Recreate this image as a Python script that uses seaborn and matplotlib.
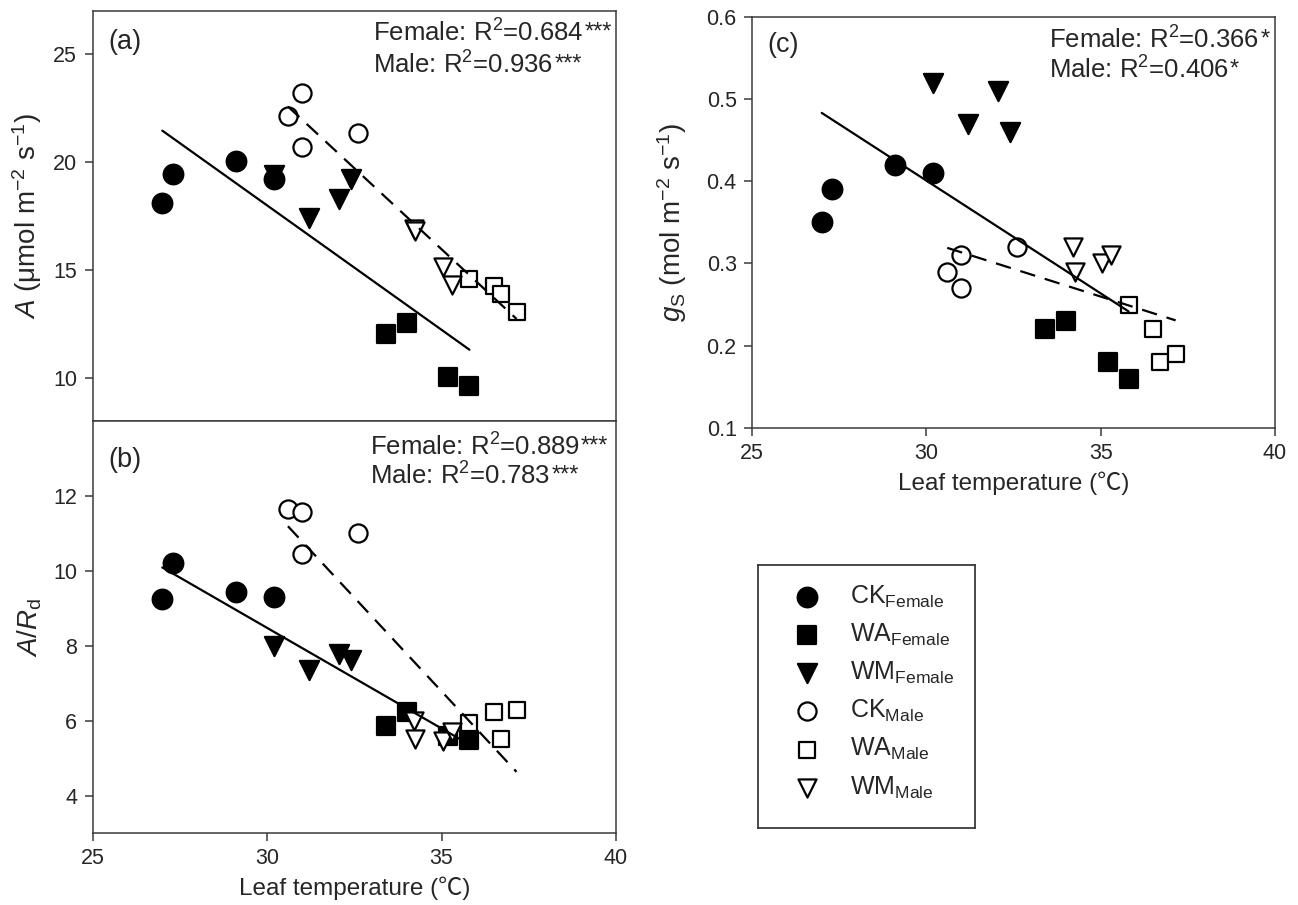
import numpy as np
import pandas as pd
import seaborn as sns
import matplotlib.pyplot as plt

sns.set_style('ticks')
plt.rcParams['font.family'] = ['Liberation Sans', 'Noto Sans CJK SC', 'DejaVu Sans']
plt.rcParams['mathtext.fontset'] = 'custom'
plt.rcParams['mathtext.rm'] = 'Liberation Sans'
plt.rcParams['mathtext.it'] = 'Liberation Sans:italic'
plt.rcParams['mathtext.bf'] = 'Liberation Sans:bold'

# leaf temperature of each replicate
temp_ck_f = [27.0, 27.3, 29.1, 30.2]
temp_wa_f = [33.4, 34.0, 35.2, 35.8]
temp_wm_f = [30.2, 31.2, 32.05, 32.4]
temp_ck_m = [30.6, 31.0, 31.0, 32.6]
temp_wa_m = [35.8, 36.5, 36.7, 37.15]
temp_wm_m = [34.2, 34.25, 35.05, 35.3]

# (a) net photosynthesis A
a_ck_f = [18.1, 19.45, 20.05, 19.2]
a_wa_f = [12.05, 12.55, 10.05, 9.6]
a_wm_f = [19.4, 17.4, 18.3, 19.2]
a_ck_m = [22.15, 23.2, 20.7, 21.35]
a_wa_m = [14.6, 14.25, 13.9, 13.05]
a_wm_m = [16.9, 16.8, 15.15, 14.3]

# (b) A/Rd
ar_ck_f = [9.26, 10.2, 9.44, 9.3]
ar_wa_f = [5.87, 6.24, 5.6, 5.48]
ar_wm_f = [7.98, 7.36, 7.79, 7.63]
ar_ck_m = [11.64, 11.58, 10.44, 11.02]
ar_wa_m = [5.93, 6.22, 5.51, 6.29]
ar_wm_m = [6.0, 5.51, 5.45, 5.69]

# (c) stomatal conductance gs
gs_ck_f = [0.35, 0.39, 0.42, 0.41]
gs_wa_f = [0.22, 0.23, 0.18, 0.16]
gs_wm_f = [0.52, 0.47, 0.51, 0.46]
gs_ck_m = [0.29, 0.31, 0.27, 0.32]
gs_wa_m = [0.25, 0.22, 0.18, 0.19]
gs_wm_m = [0.32, 0.29, 0.30, 0.31]

groups = ['CK_F', 'WA_F', 'WM_F', 'CK_M', 'WA_M', 'WM_M']
sexes = ['Female', 'Female', 'Female', 'Male', 'Male', 'Male']
legend_labels = [r'CK$_{\mathrm{Female}}$', r'WA$_{\mathrm{Female}}$', r'WM$_{\mathrm{Female}}$',
                 r'CK$_{\mathrm{Male}}$', r'WA$_{\mathrm{Male}}$', r'WM$_{\mathrm{Male}}$']
r2_a = [(r'Female: R$^2$=0.684', '***'), (r'Male: R$^2$=0.936', '***')]
r2_b = [(r'Female: R$^2$=0.889', '***'), (r'Male: R$^2$=0.783', '***')]
r2_c = [(r'Female: R$^2$=0.366', '*'), (r'Male: R$^2$=0.406', '*')]

temps = [temp_ck_f, temp_wa_f, temp_wm_f, temp_ck_m, temp_wa_m, temp_wm_m]
a_all = [a_ck_f, a_wa_f, a_wm_f, a_ck_m, a_wa_m, a_wm_m]
ar_all = [ar_ck_f, ar_wa_f, ar_wm_f, ar_ck_m, ar_wa_m, ar_wm_m]
gs_all = [gs_ck_f, gs_wa_f, gs_wm_f, gs_ck_m, gs_wa_m, gs_wm_m]

rows = []
for g, sx, t, a, ar, gs in zip(groups, sexes, temps, a_all, ar_all, gs_all):
    for i in range(len(t)):
        rows.append(dict(group=g, sex=sx, T=t[i], A=a[i], AR=ar[i], gs=gs[i]))
df = pd.DataFrame(rows)

markers = ['o', 's', 'v', 'o', 's', 'v']
faces = ['black', 'black', 'black', 'white', 'white', 'white']
sizes = [200, 170, 190, 170, 135, 170]

W, H = 1298, 905
fig = plt.figure(figsize=(W / 100, H / 100), dpi=100)
ax_a = fig.add_axes([92.5 / W, 1 - 421 / H, 523.5 / W, 410 / H])
ax_b = fig.add_axes([92.5 / W, 1 - 833 / H, 523.5 / W, 412 / H])
ax_c = fig.add_axes([752 / W, 1 - 428 / H, 523 / W, 411.3 / H])


def draw_panel(ax, col, ylim, yticks, r2, tag, tag_y, text_x, base_y):
    for g, lab, mk, fc, s in zip(groups, legend_labels, markers, faces, sizes):
        d = df[df.group == g]
        sns.scatterplot(data=d, x='T', y=col, marker=mk, s=s, color=fc,
                        edgecolor='black', linewidth=1.6, ax=ax, label=lab, zorder=2)
    for sx, ls in [('Female', '-'), ('Male', (0, (7, 4.5)))]:
        d = df[df.sex == sx]
        sns.regplot(data=d, x='T', y=col, scatter=False, ci=None, truncate=True,
                    color='black', line_kws=dict(lw=1.6, ls=ls, zorder=4), ax=ax)
    if ax.get_legend() is not None:
        ax.get_legend().remove()
    ax.set_xlim(25, 40)
    ax.set_xticks([25, 30, 35, 40])
    ax.set_ylim(*ylim)
    ax.set_yticks(yticks)
    ax.set_xlabel('')
    ax.set_ylabel('')
    for sp in ax.spines.values():
        sp.set_visible(True)
        sp.set_color('#3a3a3a')
        sp.set_linewidth(1.1)
    ax.tick_params(direction='out', length=6, width=1.1, color='#3a3a3a',
                   labelsize=15.5, pad=5)
    ax.text(0.03, tag_y, tag, transform=ax.transAxes, fontsize=19.5, va='center', ha='left')
    for (main, stars), by in zip(r2, base_y):
        t = ax.text(text_x, by, main, transform=ax.transAxes, fontsize=18.5,
                    va='baseline', ha='left')
        ax.annotate(stars, xy=(1, 1), xycoords=t, xytext=(0.8, -1.5),
                    textcoords='offset points', fontsize=17, va='top', ha='left')


draw_panel(ax_a, 'A', (8, 27), [10, 15, 20, 25], r2_a, '(a)', 0.924, 0.536, (0.925, 0.848))
draw_panel(ax_b, 'AR', (3, 14), [4, 6, 8, 10, 12], r2_b, '(b)', 0.905, 0.53, (0.917, 0.845))
draw_panel(ax_c, 'gs', (0.1, 0.6), [0.1, 0.2, 0.3, 0.4, 0.5, 0.6], r2_c, '(c)', 0.931, 0.568, (0.923, 0.85))

ax_a.tick_params(axis='x', length=0, labelbottom=False)
ax_c.set_yticklabels(['0.1', '0.2', '0.3', '0.4', '0.5', '0.6'])

ax_a.set_ylabel(r'$\it{A}$ (μmol m$^{-2}$ s$^{-1}$)', fontsize=20)
ax_a.yaxis.set_label_coords(-0.093, 0.5)
ax_b.set_ylabel(r'$\it{A}$/$\it{R}_{\mathrm{d}}$', fontsize=20)
ax_b.yaxis.set_label_coords(-0.093, 0.5)
ax_c.set_ylabel(r'$\it{g}_{\mathrm{S}}$ (mol m$^{-2}$ s$^{-1}$)', fontsize=20)
ax_c.yaxis.set_label_coords(-0.12, 0.5)
for ax in (ax_b, ax_c):
    ax.set_xlabel('Leaf temperature (℃)', fontsize=17.5, labelpad=5)

# legend box
ax_leg = fig.add_axes([758 / W, 1 - 828 / H, 217 / W, 263 / H])
ax_leg.set_xticks([])
ax_leg.set_yticks([])
for sp in ax_leg.spines.values():
    sp.set_color('#3a3a3a')
    sp.set_linewidth(1.3)
handles, labels = ax_c.get_legend_handles_labels()
ax_leg.legend(handles, labels, loc='upper left', bbox_to_anchor=(0.17, 0.93),
              frameon=False, fontsize=18, borderpad=0, borderaxespad=0,
              handlelength=1.0, handletextpad=1.2, labelspacing=0.48)

fig.savefig('out.png', dpi=100)
